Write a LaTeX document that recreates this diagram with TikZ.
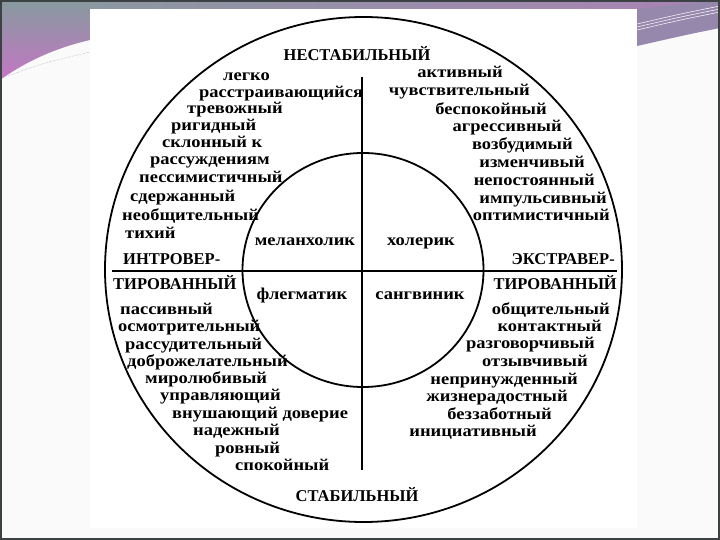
\documentclass[tikz,border=0pt]{standalone}
\usepackage{fontspec}
\setmainfont{Liberation Serif}
\newfontfamily\traitfont[FakeStretch=1.12]{Liberation Serif}
\usetikzlibrary{calc}

\definecolor{slideteal}{RGB}{134,154,158}
\definecolor{slidepink}{RGB}{196,118,196}
\definecolor{slidelilac}{RGB}{170,130,180}
\definecolor{slidegrape}{RGB}{150,136,172}
\definecolor{slideframe}{RGB}{60,66,68}
\definecolor{slidepaper}{RGB}{250,250,250}

\begin{document}
\begin{tikzpicture}[x=1pt,y=-1pt,
	trait/.style={font=\traitfont\bfseries\fontsize{16.5}{16.5}\selectfont,
		inner sep=0pt, text height=8pt, text depth=3pt},
	traitw/.style={trait, anchor=west},
	traite/.style={trait, anchor=east},
	pole/.style={font=\bfseries\fontsize{16.5}{16.5}\selectfont,
		inner sep=0pt, text height=11pt, text depth=0pt},
	ring/.style={line width=1.8pt},
	axisline/.style={line width=2.2pt}]

% parameters %{{{2

	\def\outerrx{258.5pt}
	\def\outerry{252.5pt}
	\def\innerrx{120.5pt}
	\def\innerry{117pt}

% slide %{{{2

	\useasboundingbox (0,0) rectangle (720,540);
	\fill[slidepaper] (0,0) rectangle (720,540);
	\shade[left color=slideteal, right color=slidelilac] (0,0) rectangle (720,9);
	\shade[top color=slideteal, bottom color=slidepink]
		(0,0) -- (90,0) -- (90,40) .. controls (55,48) and (25,62) .. (0,80) -- cycle;
	\draw[slidegrape, line width=0.4pt, densely dotted] (8,76) .. controls (40,64) .. (90,52);
	\fill[slidegrape] (637,9) -- (720,0) -- (720,28) .. controls (690,34) .. (637,46) -- cycle;
	\foreach \k in {0,1,2} {
		\draw[white, line width=0.5pt] (637,{24+3*\k}) .. controls (680,{14+3*\k}) .. (720,{6+3*\k});
	}
	\fill[white] (90,9) rectangle (637,528);
	\draw[slideframe, line width=2pt] (1,1) rectangle (719,539);

% coordinates %{{{2

	\coordinate (O) at (363.5,269.5);
	\coordinate (I) at (363,270);
	\coordinate (V1) at (362,77);
	\coordinate (V2) at (362,470);
	\coordinate (H1) at (112,271);
	\coordinate (H2) at (617,271);

% circles %{{{2

	\draw[ring] (O) ellipse [x radius=\outerrx, y radius=\outerry];
	\draw[ring] (I) ellipse [x radius=\innerrx, y radius=\innerry];

% axes %{{{2

	\draw[axisline] (V1) -- (V2);
	\draw[axisline] (H1) -- (H2);

% poles %{{{2

	\node[pole] (unstable) at (357,55) {НЕСТАБИЛЬНЫЙ};
	\node[pole] (stable) at (357,496) {СТАБИЛЬНЫЙ};
	\node[pole, anchor=west] (intro1) at (123,259) {ИНТРОВЕР-};
	\node[pole, anchor=west] (intro2) at (113,284) {ТИРОВАННЫЙ};
	\node[pole, anchor=east] (extra1) at (615,259) {ЭКСТРАВЕР-};
	\node[pole, anchor=east] (extra2) at (617,284) {ТИРОВАННЫЙ};

% temperaments %{{{2

	\node[trait] (melan) at (305,243) {меланхолик};
	\node[trait] (chol) at (421,243) {холерик};
	\node[trait] (phleg) at (302,297) {флегматик};
	\node[trait] (sang) at (420,297) {сангвиник};

% traits, unstable introvert %{{{2

	\foreach \x/\y/\t [count=\i] in {
		223/78/легко, 199/95/расстраивающийся, 187/111/тревожный,
		171/128/ригидный, 162/145/склонный к, 150/162/рассуждениям,
		139/180/пессимистичный, 130/199/сдержанный, 122/218/необщительный,
		125/236/тихий} {
		\node[traitw] (ui\i) at (\x,\y) {\t};
	}

% traits, unstable extravert %{{{2

	\foreach \x/\y/\t [count=\i] in {
		503/75/активный, 530/93/чувствительный, 547/112/беспокойный,
		562/129/агрессивный, 573/147/возбудимый, 585/165/изменчивый,
		595/183/непостоянный, 607/201/импульсивный, 610/218/оптимистичный} {
		\node[traite] (ue\i) at (\x,\y) {\t};
	}

% traits, stable introvert %{{{2

	\foreach \x/\y/\t [count=\i] in {
		120/312/пассивный, 118/329/осмотрительный, 125/347/рассудительный,
		127/364/доброжелательный, 145/381/миролюбивый, 160/398/управляющий,
		172/416/внушающий доверие, 193/433/надежный, 215/451/ровный,
		235/468/спокойный} {
		\node[traitw] (si\i) at (\x,\y) {\t};
	}

% traits, stable extravert %{{{2

	\foreach \x/\y/\t [count=\i] in {
		610/312/общительный, 602/329/контактный, 595/346/разговорчивый,
		588/364/отзывчивый, 578/382/непринужденный, 568/399/жизнерадостный,
		552/417/беззаботный, 537/434/инициативный} {
		\node[traite] (se\i) at (\x,\y) {\t};
	}

% closing %{{{2

\end{tikzpicture}
\end{document}
